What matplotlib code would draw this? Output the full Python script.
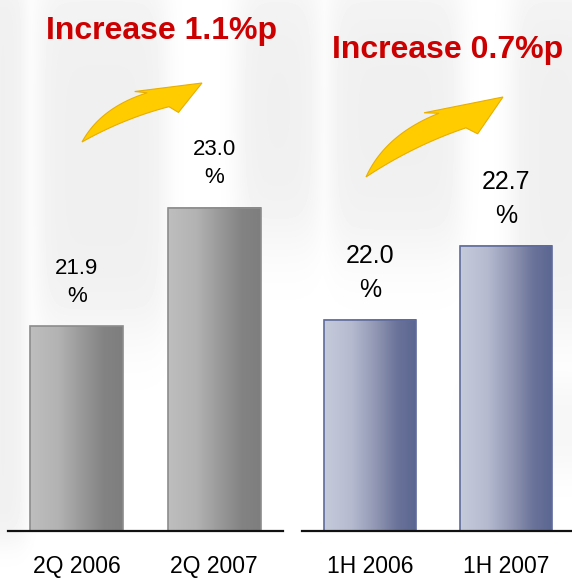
import numpy as np
import matplotlib.pyplot as plt
from matplotlib.colors import LinearSegmentedColormap
from matplotlib.patches import Polygon

plt.rcParams['font.family'] = ['Liberation Sans', 'DejaVu Sans']

# quarter / half-year figures (%)
q_labels = ['2Q 2006', '2Q 2007']
q_values = [21.9, 23.0]
h_labels = ['1H 2006', '1H 2007']
h_values = [22.0, 22.7]

W, H = 572, 579
fig = plt.figure(figsize=(W / 100, H / 100), dpi=100)


def soft_box(X, Y, x0, x1, y0, y1, sx, sy):
    fx = 0.5 * (np.tanh((X - x0) / sx) - np.tanh((X - x1) / sx))
    fy = 0.5 * (np.tanh((Y - y0) / sy) - np.tanh((Y - y1) / sy))
    return fx * fy


# faint watermark stripes behind everything
X, Y = np.meshgrid(np.arange(W), np.arange(H))
shade = np.zeros((H, W))
for box in [(-20, 25, -20, 540, 10, 20), (38, 165, -20, 330, 14, 45), (238, 318, -20, 240, 14, 45),
            (330, 460, -20, 250, 14, 45), (512, 600, -20, 330, 14, 45)]:
    shade = np.maximum(shade, soft_box(X, Y, *box))
shade = np.maximum(shade, 0.6 * soft_box(X, Y, 470, 620, 380, 470, 20, 25))
bg = fig.add_axes([0, 0, 1, 1], zorder=-1)
bg.imshow(1 - 0.06 * shade, cmap='gray', vmin=0, vmax=1, aspect='auto')
bg.axis('off')

gray_cmap = LinearSegmentedColormap.from_list(
    'g', [(0, '#BEBEBE'), (0.3, '#B3B3B3'), (0.55, '#9A9A9A'), (0.8, '#838383'), (1, '#7E7E7E')])
blue_cmap = LinearSegmentedColormap.from_list(
    'b', [(0, '#C6CBDB'), (0.3, '#B5BACF'), (0.55, '#9399B5'), (0.8, '#6A7399'), (1, '#5B6692')])
grad = np.linspace(0, 1, 256).reshape(1, -1)


def panel(x0, x1, top, labels, values, cmap, edge, num_font, num_size, gaps):
    ax = fig.add_axes([x0 / W, (H - 531) / H, (x1 - x0) / W, 531 / H])
    ax.set_facecolor('none')
    ax.set_xlim(-0.5, 1.5)
    ax.set_ylim(20, top)
    bars = ax.bar(range(len(values)), values, width=0.676, facecolor='none',
                  edgecolor=edge, linewidth=1.2, zorder=2)
    for rect, v in zip(bars, values):
        ax.imshow(grad, cmap=cmap, aspect='auto', zorder=1,
                  extent=[rect.get_x(), rect.get_x() + rect.get_width(), 20, rect.get_height()])
        xc = rect.get_x() + rect.get_width() / 2
        ax.annotate('%', (xc, v), xytext=(0, gaps[0]), textcoords='offset pixels',
                    ha='center', va='center', fontsize=num_size, family=num_font)
        ax.annotate(f'{v:.1f}', (xc, v), xytext=(0, gaps[1]), textcoords='offset pixels',
                    ha='center', va='center', fontsize=num_size, family=num_font)
    ax.set_xlim(-0.5, 1.5)
    ax.set_ylim(20, top)
    for s in ['left', 'right', 'top']:
        ax.spines[s].set_visible(False)
    ax.spines['bottom'].set_linewidth(1.6)
    ax.spines['bottom'].set_color('#111111')
    ax.spines['bottom'].set_zorder(3)
    ax.set_yticks([])
    ax.set_xticks(range(len(labels)), labels, fontsize=16.5)
    ax.tick_params(axis='x', length=0, pad=17)
    return ax


ax_q = panel(8, 283, 24.93, q_labels, q_values, gray_cmap, '#8C8C8C',
             ['Liberation Sans', 'DejaVu Sans'], 16, (30, 58))
ax_h = panel(302, 574, 25.03, h_labels, h_values, blue_cmap, '#5F6B9C',
             ['Liberation Sans Narrow', 'Liberation Sans', 'DejaVu Sans'], 18, (30, 64))


def curve(p0, c, p1, n=30):
    t = np.linspace(0, 1, n)[:, None]
    return (1 - t) ** 2 * np.array(p0) + 2 * (1 - t) * t * np.array(c) + t ** 2 * np.array(p1)


def yellow_arrow(tail, tip):
    # local outline: u runs tail -> tip, v is to the left of it
    upper = curve((0, 0), (0.24, 0.17), (0.60, 0.115))
    lower = curve((0, 0), (0.36, 0.02), (0.70, -0.05))
    head = np.array([(0.745, -0.12), (1, 0), (0.52, 0.165), (0.60, 0.115)])
    local = np.vstack([lower, head, upper[::-1]])
    t = np.array([tail[0], H - tail[1]], float)
    d = np.array([tip[0], H - tip[1]], float) - t
    n = np.array([-d[1], d[0]])
    pts = t + local[:, :1] * d + local[:, 1:] * n
    pts = pts / np.array([W, H])
    fig.patches.append(Polygon(pts, closed=True, transform=fig.transFigure,
                               facecolor='#FFCC00', edgecolor='#E8AE00', linewidth=0.8))


yellow_arrow((82, 142), (202, 83))
yellow_arrow((366, 177), (503, 97))

fig.text(162 / W, 1 - 39 / H, f'Increase {q_values[1] - q_values[0]:.1f}%p', ha='center',
         va='baseline', fontsize=23, fontweight='bold', color='#CC0000')
fig.text(448 / W, 1 - 58 / H, f'Increase {h_values[1] - h_values[0]:.1f}%p', ha='center',
         va='baseline', fontsize=23, fontweight='bold', color='#CC0000')

fig.savefig('out.png', dpi=100)
